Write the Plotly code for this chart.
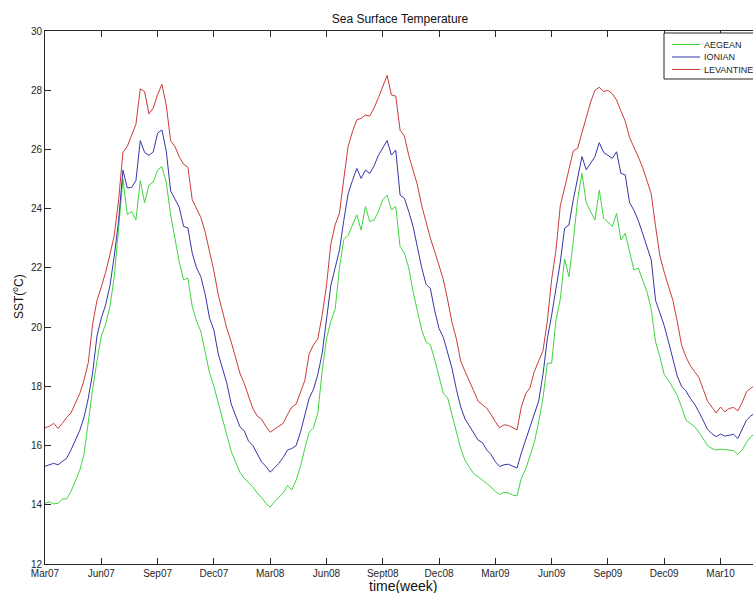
import plotly.graph_objects as go

# Weekly mean sea surface temperature (deg C), one value per week starting March 2007
aegean = [
    14.05, 14.1, 14.03, 14.05, 14.2, 14.2, 14.45, 14.8, 15.15, 15.7,
    16.9, 17.9, 18.85, 19.7, 20.1, 20.7, 21.7, 23.3, 25.0,
    23.8, 23.9, 23.62, 24.95, 24.2, 24.8, 24.9, 25.3, 25.42, 24.9,
    23.8, 23.0, 22.2, 21.6, 21.65, 20.7, 20.2, 19.85, 19.1, 18.45,
    18.0, 17.45, 16.9, 16.3, 15.8, 15.45, 15.1, 14.9, 14.75, 14.6,
    14.4, 14.25, 14.05, 13.92,
    14.1, 14.25, 14.4, 14.65, 14.5, 14.84, 15.3, 15.9, 16.45, 16.6,
    17.1, 18.5, 19.6, 20.2, 20.6, 22.0, 22.95, 23.1, 23.45, 23.79,
    23.28, 24.07, 23.56, 23.62, 23.9, 24.3, 24.46, 23.96, 24.07, 22.72,
    22.5, 22.0, 21.2, 20.5, 19.9, 19.5, 19.4, 18.9, 18.3, 17.76,
    17.6, 17.0, 16.4, 15.9, 15.5, 15.25, 15.05, 14.95, 14.85, 14.72,
    14.6, 14.45, 14.35, 14.42, 14.4, 14.33, 14.3, 14.9, 15.2, 15.65,
    16.1, 16.8, 17.6, 18.78, 18.78,
    20.24, 20.95, 22.3, 21.7, 22.9, 24.3, 25.19, 24.2, 23.9, 23.62,
    24.63, 23.67, 23.55, 23.4, 23.84, 22.94, 23.17, 22.5, 21.93, 21.99,
    21.6, 21.2, 20.6, 19.5, 19.0, 18.4, 18.2, 17.95, 17.7, 17.3,
    16.86, 16.75, 16.64, 16.45, 16.2, 16.0, 15.9, 15.85, 15.88, 15.87,
    15.85, 15.83, 15.7, 15.85, 16.1, 16.3, 16.4,
]

ionian = [
    15.3, 15.35, 15.4, 15.35, 15.45, 15.57, 15.85, 16.15, 16.5, 16.95,
    17.6, 18.45, 19.7, 20.3, 20.75, 21.4, 22.4, 23.6, 25.3, 24.7,
    24.72, 24.95, 26.3, 25.9, 25.8, 25.92, 26.55, 26.66, 25.95, 24.6,
    24.3, 24.05, 23.4, 23.35, 22.5, 22.0, 21.7, 21.1, 20.3, 19.9,
    19.1, 18.6, 18.1, 17.4, 17.0, 16.64, 16.5, 16.15, 16.0, 15.7,
    15.45, 15.3, 15.1, 15.25, 15.4, 15.6, 15.85, 15.9, 16.0, 16.45,
    17.0, 17.6, 17.9, 18.4, 19.1, 20.3, 21.4, 22.0, 22.6, 23.6,
    24.5, 24.95, 25.36, 25.02, 25.3, 25.19, 25.45, 25.8, 26.05, 26.3,
    25.81, 25.98, 24.46, 24.35, 23.9, 23.4, 22.7, 22.0, 21.45, 21.3,
    20.55, 19.95, 19.65, 19.1, 18.6, 17.9, 17.3, 16.9, 16.65, 16.4,
    16.19, 16.1, 15.85, 15.7, 15.45, 15.29, 15.35, 15.37, 15.3, 15.24,
    15.75, 16.2, 16.6, 17.05, 17.5, 18.4, 19.6, 20.4, 21.3, 22.2,
    23.34, 23.45, 24.3, 25.1, 25.76, 25.31, 25.55, 25.76, 26.23, 25.9,
    25.8, 25.7, 25.92, 25.19, 25.14, 24.2, 23.95, 23.6, 23.17, 22.7,
    22.27, 20.9, 20.5, 20.05, 19.5, 18.9, 18.35, 18.0, 17.85, 17.6,
    17.4, 17.14, 16.85, 16.55, 16.4, 16.3, 16.39, 16.32, 16.35, 16.38,
    16.24, 16.55, 16.86, 17.0, 17.1,
]

levantine = [
    16.6, 16.65, 16.75, 16.58, 16.75, 16.95, 17.1, 17.4, 17.75, 18.2,
    18.8, 20.1, 20.9, 21.35, 21.85, 22.45, 23.1, 24.3, 25.9, 26.1,
    26.45, 26.85, 28.05, 27.95, 27.2, 27.4, 27.85, 28.2, 27.5, 26.3,
    26.1, 25.75, 25.5, 25.4, 24.3, 24.0, 23.7, 23.2, 22.6, 21.9,
    21.1, 20.5, 19.95, 19.5, 18.95, 18.45, 18.1, 17.7, 17.25, 17.0,
    16.9, 16.65, 16.45, 16.55, 16.65, 16.75, 17.05, 17.3, 17.4, 17.8,
    18.2, 19.1, 19.4, 19.6, 20.4, 21.4, 22.8, 23.45, 23.85, 25.0,
    26.1, 26.6, 27.0, 27.05, 27.16, 27.13, 27.4, 27.75, 28.1, 28.5,
    27.84, 27.8, 26.65, 26.45, 25.8, 25.3, 24.8, 24.1, 23.55, 23.0,
    22.55, 22.1, 21.6, 20.9, 20.15, 19.6, 18.85, 18.5, 18.2, 17.85,
    17.5, 17.38, 17.26, 17.05, 16.8, 16.6, 16.7, 16.68, 16.6, 16.53,
    17.3, 17.75, 17.95, 18.5, 18.85, 19.2, 20.2, 21.6, 22.6, 24.1,
    24.7, 25.3, 25.95, 26.04, 26.55, 27.0, 27.6, 28.0, 28.1, 27.95,
    28.0, 27.88, 27.67, 27.3, 26.95, 26.4, 26.1, 25.75, 25.4, 24.95,
    24.5, 23.4, 22.4, 21.85, 21.35, 20.9, 20.2, 19.4, 19.0, 18.7,
    18.5, 18.3, 17.9, 17.5, 17.3, 17.1, 17.3, 17.14, 17.25, 17.29,
    17.17, 17.45, 17.82, 17.95, 18.05,
]

series_names = ["AEGEAN", "IONIAN", "LEVANTINE"]
series_colors = ["#3fd43f", "#3535a8", "#cc3a3a"]

tick_labels = ["Mar07", "Jun07", "Sep07", "Dec07", "Mar08", "Jun08", "Sept08",
               "Dec08", "Mar09", "Jun09", "Sep09", "Dec09", "Mar10"]
weeks_per_tick = 13

weeks = list(range(len(levantine)))
tick_weeks = [i * weeks_per_tick for i in range(len(tick_labels))]

W, H = 753, 593
ML, MR, MT, MB = 45, 0, 31, 29
PW, PH = W - ML - MR, H - MT - MB


def px(x):
    return (x - ML) / PW


def py(y):
    return (H - MB - y) / PH


FONT = "Liberation Sans, Arial, sans-serif"

fig = go.Figure()
for name, vals, col in zip(series_names, [aegean, ionian, levantine], series_colors):
    fig.add_trace(go.Scatter(x=weeks, y=vals, mode="lines", name=name,
                             line=dict(color=col, width=1), showlegend=False))

axis_common = dict(showgrid=False, zeroline=False, showline=True, linecolor="#262626",
                   linewidth=1, ticks="inside", ticklen=6, tickcolor="#262626",
                   tickfont=dict(family=FONT, size=10, color="#262626"))

fig.update_xaxes(range=[0, 163.5], tickvals=tick_weeks, ticktext=tick_labels,
                 mirror="ticks", **axis_common)
fig.update_yaxes(range=[12, 30], dtick=2, tick0=12, mirror=False, **axis_common)

annotations = [
    dict(text="time(week)", x=px(403), y=py(586), xref="paper", yref="paper",
         showarrow=False, xanchor="center", yanchor="middle",
         font=dict(family=FONT, size=14, color="#111111")),
    dict(text="SST(<sup>o</sup>C)", x=px(18), y=py(297), xref="paper", yref="paper",
         showarrow=False, xanchor="center", yanchor="middle", textangle=-90,
         font=dict(family=FONT, size=12, color="#111111")),
]

# Legend box in the upper right corner
shapes = [dict(type="rect", xref="paper", yref="paper",
               x0=px(664), x1=px(770), y0=py(79), y1=py(33),
               line=dict(color="#262626", width=1), fillcolor="white", layer="above")]
legend_rows = [44.5, 57, 69.5]
for name, col, yy in zip(series_names, series_colors, legend_rows):
    shapes.append(dict(type="line", xref="paper", yref="paper",
                       x0=px(672), x1=px(700), y0=py(yy), y1=py(yy),
                       line=dict(color=col, width=1), layer="above"))
    annotations.append(dict(text=name, x=px(702), y=py(yy), xref="paper", yref="paper",
                            showarrow=False, xanchor="left", yanchor="middle",
                            font=dict(family=FONT, size=9, color="#262626")))

fig.update_layout(
    width=W, height=H,
    margin=dict(l=ML, r=MR, t=MT, b=MB),
    paper_bgcolor="white", plot_bgcolor="white",
    title=dict(text="Sea Surface Temperature", x=400 / W, xref="container", xanchor="center",
               y=1 - 19 / H, yref="container", yanchor="middle",
               font=dict(family=FONT, size=12, color="#111111")),
    annotations=annotations, shapes=shapes,
)

fig.write_html("out.html")
